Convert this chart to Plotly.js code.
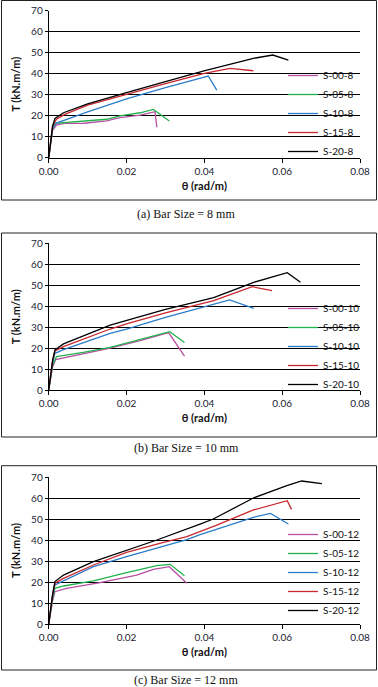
<!DOCTYPE html>
<html>
<head>
<meta charset="utf-8">
<script src="https://cdn.plot.ly/plotly-3.0.1.min.js"></script>
<style>html,body{margin:0;padding:0;background:#fff;}#chart{width:378px;height:687px;}</style>
</head>
<body>
<div id="chart"></div>
<script>
// ---------- Data ----------
const seriesNames8  = ["S-00-8", "S-05-8", "S-10-8", "S-15-8", "S-20-8"];
const seriesNames10 = ["S-00-10", "S-05-10", "S-10-10", "S-15-10", "S-20-10"];
const seriesNames12 = ["S-00-12", "S-05-12", "S-10-12", "S-15-12", "S-20-12"];
const captions = ["(a) Bar Size = 8 mm", "(b) Bar Size = 10 mm", "(c) Bar Size = 12 mm"];
const xTickVals = [0, 0.02, 0.04, 0.06, 0.08];

// Panel (a) 8 mm
const a_S00_x = [0, 0.0005, 0.001, 0.002, 0.004, 0.009, 0.0149, 0.0183, 0.0235, 0.026, 0.0273, 0.0278];
const a_S00_y = [0, 7, 13, 15.5, 16.3, 16.4, 17.5, 19.1, 20.3, 21.4, 21.9, 14.5];
const a_S05_x = [0, 0.0005, 0.001, 0.0016, 0.0063, 0.0149, 0.0183, 0.0235, 0.0269, 0.031];
const a_S05_y = [0, 8, 13.5, 16.4, 17.1, 18.3, 19.9, 21.4, 23.0, 17.5];
const a_S10_x = [0, 0.0005, 0.001, 0.002, 0.0046, 0.01, 0.02, 0.03, 0.04, 0.041, 0.0432];
const a_S10_y = [0, 8, 14, 16.5, 18.3, 21.8, 28.0, 33.4, 38.4, 38.9, 32.2];
const a_S15_x = [0, 0.0005, 0.001, 0.002, 0.004, 0.01, 0.02, 0.03, 0.04, 0.0466, 0.0526];
const a_S15_y = [0, 9, 15, 18.3, 20.5, 25.0, 30.2, 35.3, 40.2, 42.5, 41.4];
const a_S20_x = [0, 0.0005, 0.001, 0.0016, 0.0038, 0.01, 0.0149, 0.02, 0.03, 0.0399, 0.0526, 0.0576, 0.0616];
const a_S20_y = [0, 9, 15, 18.7, 21.4, 25.6, 28.3, 31.0, 36.2, 41.4, 47.3, 48.9, 46.5];

// Panel (b) 10 mm
const b_S00_x = [0, 0.0005, 0.001, 0.0018, 0.0046, 0.0089, 0.0158, 0.0235, 0.0308, 0.0349];
const b_S00_y = [0, 6, 11, 14.5, 15.6, 17.0, 20.0, 23.6, 27.4, 16.2];
const b_S05_x = [0, 0.0005, 0.001, 0.002, 0.0046, 0.0089, 0.0158, 0.0235, 0.0311, 0.0349];
const b_S05_y = [0, 7, 12, 15.9, 16.8, 18.0, 20.3, 23.9, 27.8, 22.7];
const b_S10_x = [0, 0.0005, 0.001, 0.0016, 0.0038, 0.0158, 0.02, 0.03, 0.04, 0.0465, 0.0527];
const b_S10_y = [0, 8, 13, 17.5, 19.3, 27.0, 29.0, 34.6, 39.6, 43.0, 39.0];
const b_S15_x = [0, 0.0005, 0.001, 0.0016, 0.0038, 0.0158, 0.02, 0.03, 0.0424, 0.0523, 0.0574];
const b_S15_y = [0, 8, 14, 18.6, 20.7, 29.1, 31.5, 36.8, 42.6, 49.3, 47.4];
const b_S20_x = [0, 0.0005, 0.001, 0.0016, 0.0038, 0.0158, 0.02, 0.03, 0.0424, 0.0527, 0.0613, 0.0647];
const b_S20_y = [0, 8, 14, 19.1, 22.0, 31.0, 33.3, 38.5, 44.1, 51.4, 56.0, 51.4];

// Panel (c) 12 mm
const c_S00_x = [0, 0.0005, 0.001, 0.0016, 0.0046, 0.0132, 0.0226, 0.0269, 0.031, 0.0355];
const c_S00_y = [0, 6, 11, 15.4, 17.0, 19.7, 23.3, 26.0, 27.3, 19.4];
const c_S05_x = [0, 0.0005, 0.001, 0.0016, 0.0038, 0.0115, 0.02, 0.0278, 0.0312, 0.0349];
const c_S05_y = [0, 7, 12, 17.0, 18.1, 20.5, 24.5, 27.8, 28.4, 23.0];
const c_S10_x = [0, 0.0005, 0.001, 0.0016, 0.0038, 0.0115, 0.02, 0.0355, 0.0389, 0.0526, 0.057, 0.0616];
const c_S10_y = [0, 8, 13, 18.6, 20.5, 27.3, 32.1, 40.2, 42.6, 50.8, 52.7, 47.6];
const c_S15_x = [0, 0.0005, 0.001, 0.0016, 0.0038, 0.0115, 0.02, 0.0295, 0.0355, 0.0432, 0.0526, 0.0613, 0.0624];
const c_S15_y = [0, 8, 14, 19.4, 21.7, 28.1, 34.1, 38.9, 41.6, 47.1, 54.3, 58.7, 54.6];
const c_S20_x = [0, 0.0005, 0.001, 0.0016, 0.0038, 0.0115, 0.02, 0.0278, 0.0389, 0.0423, 0.0526, 0.0612, 0.065, 0.0702];
const c_S20_y = [0, 8, 14, 20.2, 23.3, 29.7, 35.2, 40.0, 47.6, 50.0, 60.0, 65.9, 68.1, 66.8];

const colors = ["#b84fa2", "#22b24c", "#2a7bc9", "#c8282f", "#000000"];

// ---------- Build traces ----------
const panels = [
  {names: seriesNames8,  xs: [a_S00_x, a_S05_x, a_S10_x, a_S15_x, a_S20_x], ys: [a_S00_y, a_S05_y, a_S10_y, a_S15_y, a_S20_y], xa: "x",  ya: "y",  lg: "legend"},
  {names: seriesNames10, xs: [b_S00_x, b_S05_x, b_S10_x, b_S15_x, b_S20_x], ys: [b_S00_y, b_S05_y, b_S10_y, b_S15_y, b_S20_y], xa: "x2", ya: "y2", lg: "legend2"},
  {names: seriesNames12, xs: [c_S00_x, c_S05_x, c_S10_x, c_S15_x, c_S20_x], ys: [c_S00_y, c_S05_y, c_S10_y, c_S15_y, c_S20_y], xa: "x3", ya: "y3", lg: "legend3"}
];
const traces = [];
panels.forEach(p => {
  p.names.forEach((n, i) => {
    traces.push({
      type: "scatter", mode: "lines", name: n,
      x: p.xs[i], y: p.ys[i], xaxis: p.xa, yaxis: p.ya, legend: p.lg,
      line: {color: colors[i], width: 1.3}
    });
  });
});

// ---------- Layout ----------
const W = 378, H = 687;
const fx = px => px / W;
const fy = py => 1 - py / H;
const tickFont = {family: "Lato, 'Open Sans', sans-serif", size: 10, color: "#222233"};
const titleFont = {family: "Lato, 'Open Sans', sans-serif", size: 11, color: "#111111", weight: "bold"};

function xAxis(domY, anchor) {
  return {
    domain: [fx(48.7), fx(360)], anchor: anchor, range: [0, 0.08],
    tickvals: xTickVals, tickformat: ".2f", ticks: "outside", ticklen: 4, tickcolor: "#000",
    showline: true, linecolor: "#000", linewidth: 1, showgrid: false, zeroline: false,
    tickfont: tickFont, fixedrange: true,
    title: {text: "<b>θ (rad/m)</b>", font: titleFont, standoff: 6}
  };
}
function yAxis(dom, anchor) {
  return {
    domain: dom, anchor: anchor, range: [0, 70], dtick: 10, ticks: "outside", ticklen: 3, tickcolor: "#000",
    showline: true, linecolor: "#000", linewidth: 1, showgrid: true, gridcolor: "#000", gridwidth: 1,
    zeroline: false, tickfont: tickFont, fixedrange: true,
    title: {text: "<b>T (kN.m/m)</b>", font: titleFont, standoff: 8}
  };
}
const legendBase = {
  xanchor: "left", yanchor: "top", bgcolor: "rgba(0,0,0,0)", borderwidth: 0,
  font: {family: "Lato, 'Open Sans', sans-serif", size: 10, color: "#111"},
  itemwidth: 30, traceorder: "normal", tracegroupgap: 0
};

const boxes = [[0.5, 200], [233, 437], [465.7, 670]];
const shapes = boxes.map(b => ({
  type: "rect", xref: "paper", yref: "paper",
  x0: fx(1.5), x1: fx(376.5), y0: fy(b[1]), y1: fy(b[0]),
  line: {color: "#222", width: 1}, fillcolor: "rgba(0,0,0,0)"
}));
const capY = [213.5, 447.5, 680];
const annotations = captions.map((c, i) => ({
  text: c, xref: "paper", yref: "paper", x: fx(186), y: fy(capY[i]),
  xanchor: "center", yanchor: "middle", showarrow: false,
  font: {family: "'Liberation Serif', 'DejaVu Serif', serif", size: 12, color: "#111"}
}));

const layout = {
  width: W, height: H, margin: {l: 0, r: 0, t: 0, b: 0},
  paper_bgcolor: "#fff", plot_bgcolor: "#fff", showlegend: true,
  xaxis:  xAxis(null, "y"),
  yaxis:  yAxis([fy(157.7), fy(10.7)], "x"),
  xaxis2: xAxis(null, "y2"),
  yaxis2: yAxis([fy(390), fy(243.3)], "x2"),
  xaxis3: xAxis(null, "y3"),
  yaxis3: yAxis([fy(624), fy(477)], "x3"),
  legend:  Object.assign({}, legendBase, {x: fx(283), y: fy(61)}),
  legend2: Object.assign({}, legendBase, {x: fx(283), y: fy(294)}),
  legend3: Object.assign({}, legendBase, {x: fx(283), y: fy(520)}),
  shapes: shapes, annotations: annotations
};

Plotly.newPlot("chart", traces, layout, {displayModeBar: false, staticPlot: true});
</script>
</body>
</html>
